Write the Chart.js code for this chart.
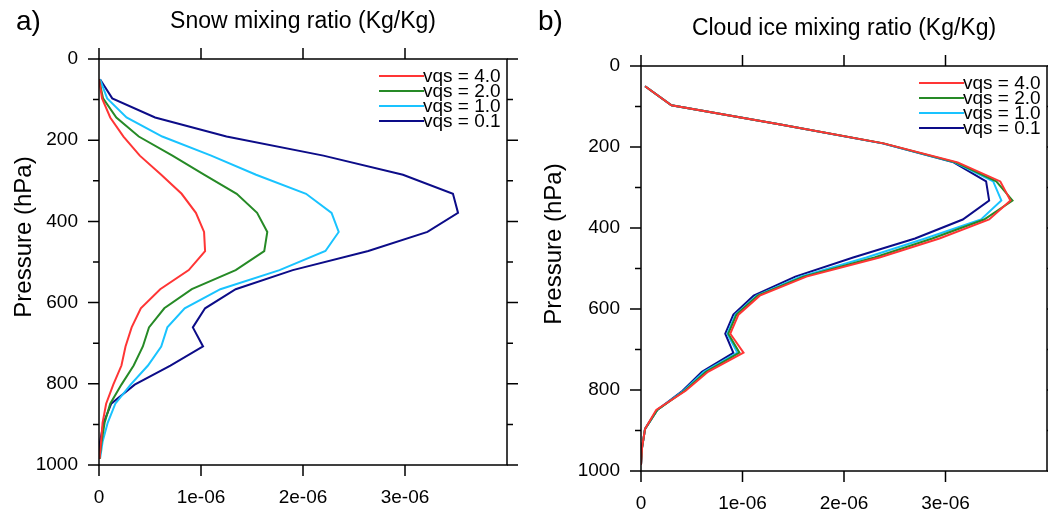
<!DOCTYPE html>
<html>
<head>
<meta charset="utf-8">
<script src="https://cdn.jsdelivr.net/npm/chart.js@4.4.1/dist/chart.umd.min.js"></script>
<style>
  html, body { margin: 0; padding: 0; background: #fff; }
  #wrap { position: relative; width: 1048px; height: 513px; }
  .panel { position: absolute; top: 0; }
</style>
</head>
<body>
<div id="wrap">
  <div class="panel" style="left:0"><canvas id="snowChart" width="524" height="513"></canvas></div>
  <div class="panel" style="left:524px"><canvas id="iceChart" width="524" height="513"></canvas></div>
</div>
<script>
// pressure levels (hPa), shared by both panels
const pressure = [50, 97, 144, 191, 238, 285, 332, 379, 426, 473, 520, 567, 614, 661, 708, 755, 802, 849, 896, 943, 985];

// snow mixing ratio, in units of 1e-06 kg/kg
const snow40 = [0.00, 0.03, 0.11, 0.24, 0.40, 0.61, 0.81, 0.95, 1.03, 1.04, 0.88, 0.60, 0.41, 0.32, 0.26, 0.22, 0.14, 0.07, 0.035, 0.02, 0.005];
const snow20 = [0.00, 0.04, 0.17, 0.39, 0.72, 1.03, 1.35, 1.55, 1.65, 1.62, 1.34, 0.91, 0.64, 0.49, 0.43, 0.34, 0.22, 0.11, 0.055, 0.025, 0.005];
const snow10 = [0.01, 0.08, 0.27, 0.62, 1.10, 1.54, 2.03, 2.28, 2.35, 2.22, 1.77, 1.19, 0.84, 0.67, 0.61, 0.48, 0.31, 0.16, 0.085, 0.035, 0.01];
const snow01 = [0.01, 0.13, 0.55, 1.25, 2.20, 2.98, 3.47, 3.52, 3.22, 2.64, 1.90, 1.34, 1.04, 0.92, 1.02, 0.70, 0.35, 0.12, 0.045, 0.01, 0.005];

// cloud ice mixing ratio, in units of 1e-06 kg/kg
const ice40 = [0.04, 0.30, 1.36, 2.39, 3.12, 3.54, 3.64, 3.43, 2.94, 2.35, 1.63, 1.17, 0.96, 0.88, 1.01, 0.66, 0.44, 0.15, 0.04, 0.01, 0.0];
const ice20 = [0.04, 0.30, 1.36, 2.39, 3.10, 3.50, 3.66, 3.38, 2.87, 2.30, 1.60, 1.15, 0.94, 0.86, 0.97, 0.64, 0.43, 0.16, 0.04, 0.01, 0.0];
const ice10 = [0.04, 0.30, 1.36, 2.38, 3.09, 3.47, 3.55, 3.35, 2.80, 2.22, 1.57, 1.14, 0.93, 0.85, 0.95, 0.62, 0.42, 0.16, 0.04, 0.01, 0.0];
const ice01 = [0.04, 0.30, 1.36, 2.38, 3.08, 3.40, 3.43, 3.17, 2.70, 2.09, 1.52, 1.11, 0.91, 0.83, 0.91, 0.60, 0.41, 0.16, 0.04, 0.01, 0.0];

const seriesLabels = ['vqs = 4.0', 'vqs = 2.0', 'vqs = 1.0', 'vqs = 0.1'];
const xTickLabels = ['0', '1e-06', '2e-06', '3e-06'];

const colors = ['#ff3535', '#268a26', '#19c3ff', '#0c0c88'];
const FONT = '"Liberation Sans", Arial, Helvetica, sans-serif';

// frame, outward ticks, legend and texts, like the NCL original
const decor = {
  id: 'decor',
  afterDatasetsDraw(chart, args, o) {
    const ctx = chart.ctx;
    const a = chart.chartArea;
    const x = chart.scales.x, y = chart.scales.y;
    ctx.save();
    ctx.strokeStyle = '#000';
    ctx.lineWidth = 1.5;
    ctx.strokeRect(a.left, a.top, a.right - a.left, a.bottom - a.top);

    ctx.beginPath();
    y.ticks.forEach(t => {
      const py = y.getPixelForValue(t.value);
      const len = t.value % 200 === 0 ? 11 : 6;
      ctx.moveTo(a.left - len, py); ctx.lineTo(a.left, py);
      ctx.moveTo(a.right, py); ctx.lineTo(a.right + len, py);
    });
    x.ticks.forEach(t => {
      if (t.value >= xTickLabels.length) return;
      const px = x.getPixelForValue(t.value);
      ctx.moveTo(px, a.bottom); ctx.lineTo(px, a.bottom + 11);
      ctx.moveTo(px, a.top); ctx.lineTo(px, a.top - 11);
    });
    ctx.stroke();

    // legend in the top right corner
    ctx.font = '19px ' + FONT;
    ctx.textBaseline = 'middle';
    ctx.textAlign = 'left';
    chart.data.datasets.forEach((ds, i) => {
      const ly = a.top + 17 + i * 15;
      ctx.strokeStyle = ds.borderColor;
      ctx.lineWidth = 2;
      ctx.beginPath();
      ctx.moveTo(a.right - 128, ly); ctx.lineTo(a.right - 83, ly);
      ctx.stroke();
      ctx.fillStyle = '#000';
      ctx.fillText(ds.label, a.right - 84, ly + 1);
    });

    // panel letter and title
    ctx.fillStyle = '#000';
    ctx.font = '28px ' + FONT;
    ctx.fillText(o.letter, o.letterX, 22);
    ctx.font = '23px ' + FONT;
    ctx.textAlign = 'center';
    ctx.fillText(o.title, (a.left + a.right) / 2, a.top - 37);

    // y axis title
    ctx.font = '24px ' + FONT;
    ctx.translate(a.left - o.ylabDx, a.top + 178);
    ctx.rotate(-Math.PI / 2);
    ctx.fillText('Pressure (hPa)', 0, 0);
    ctx.restore();
  }
};

function makePanel(id, values, opts) {
  const datasets = values.map((vals, i) => ({
    label: seriesLabels[i],
    data: vals.map((v, k) => ({ x: v, y: pressure[k] })),
    showLine: true,
    fill: false,
    borderColor: colors[i],
    backgroundColor: colors[i],
    borderWidth: 2,
    pointRadius: 0,
    tension: 0
  }));

  return new Chart(document.getElementById(id).getContext('2d'), {
    type: 'scatter',
    data: { datasets: datasets },
    plugins: [decor],
    options: {
      responsive: false,
      animation: false,
      layout: { padding: { top: opts.top, right: opts.right, left: 0, bottom: 0 } },
      scales: {
        x: {
          type: 'linear', min: 0, max: 4,
          grid: { display: false, drawTicks: false },
          border: { display: false },
          ticks: {
            stepSize: 1, padding: 21, color: '#000',
            font: { family: FONT, size: 19 },
            maxRotation: 0,
            callback: v => (xTickLabels[v] !== undefined ? xTickLabels[v] : '')
          },
          afterFit: s => {
            s.height = opts.bottomH;
            s.paddingLeft = 0;
            s.paddingRight = 0;
          }
        },
        y: {
          type: 'linear', min: 0, max: 1000, reverse: true,
          grid: { display: false, drawTicks: false },
          border: { display: false },
          ticks: {
            stepSize: 50, padding: 21, color: '#000',
            font: { family: FONT, size: 19 },
            callback: v => (v % 200 === 0 ? String(v) : '')
          },
          afterFit: s => { s.width = opts.leftW; }
        }
      },
      plugins: {
        legend: { display: false },
        tooltip: { enabled: false },
        decor: opts.decor
      }
    }
  });
}

makePanel('snowChart', [snow40, snow20, snow10, snow01], {
  top: 59, right: 17, bottomH: 48, leftW: 99,
  decor: { letter: 'a)', letterX: 16, title: 'Snow mixing ratio (Kg/Kg)', ylabDx: 75 }
});

makePanel('iceChart', [ice40, ice20, ice10, ice01], {
  top: 66, right: 1, bottomH: 42, leftW: 117,
  decor: { letter: 'b)', letterX: 14, title: 'Cloud ice mixing ratio (Kg/Kg)', ylabDx: 87 }
});
</script>
</body>
</html>
